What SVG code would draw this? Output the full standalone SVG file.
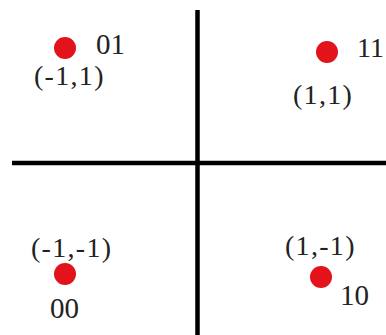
<svg xmlns="http://www.w3.org/2000/svg" width="386" height="335" viewBox="0 0 386 335">
<style>
.t{font-family:"Liberation Serif","Times New Roman",serif;font-size:29px;fill:#222}
.c{font-family:"Liberation Serif","Times New Roman",serif;font-size:28px;fill:#222;letter-spacing:1.3px}
.dot{fill:#e3131b}
.ax{stroke:#000;stroke-width:4.5;fill:none}
</style>
<rect width="386" height="335" fill="#fff"/>
<g id="axes">
<line class="ax" x1="197.5" y1="10" x2="197.5" y2="335"/>
<line class="ax" x1="12" y1="163" x2="386" y2="163"/>
</g>
<g id="p01">
<circle class="dot" cx="65" cy="48" r="11"/>
<text class="t" x="96" y="54">01</text>
<text class="c" x="34" y="85">(-1,1)</text>
</g>
<g id="p11">
<circle class="dot" cx="327" cy="52" r="11"/>
<text class="t" x="357" y="57" style="font-size:28px">11</text>
<text class="c" x="293" y="104">(1,1)</text>
</g>
<g id="p00">
<circle class="dot" cx="65" cy="274" r="11"/>
<text class="c" x="31" y="257">(-1,-1)</text>
<text class="t" x="50" y="318">00</text>
</g>
<g id="p10">
<circle class="dot" cx="321" cy="277" r="11"/>
<text class="c" x="285" y="255">(1,-1)</text>
<text class="t" x="340" y="305">10</text>
</g>
</svg>
